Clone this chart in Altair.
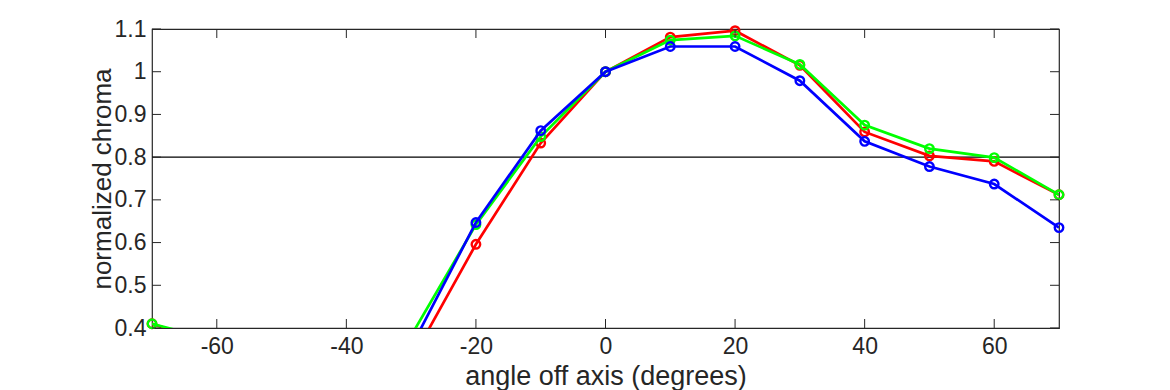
import altair as alt
import pandas as pd

angles = [-70, -60, -50, -40, -30, -20, -10, 0, 10, 20, 30, 40, 50, 60, 70]
red = [0.41, 0.36, 0.33, 0.32, 0.323, 0.596, 0.833, 1.0, 1.081, 1.096, 1.015, 0.859, 0.803, 0.790, 0.712]
green = [0.41, 0.37, 0.36, 0.37, 0.382, 0.642, 0.848, 1.0, 1.074, 1.084, 1.017, 0.875, 0.820, 0.799, 0.712]
blue = [0.38, 0.34, 0.33, 0.33, 0.355, 0.647, 0.862, 1.0, 1.059, 1.059, 0.979, 0.837, 0.778, 0.737, 0.635]
series_names = ["red", "green", "blue"]
series_colors = ["#ff0000", "#00ff00", "#0000ff"]
x_ticks = [-60, -40, -20, 0, 20, 40, 60]
y_ticks = [0.4, 0.5, 0.6, 0.7, 0.8, 0.9, 1.0, 1.1]
threshold = [0.8]

W, H = 907, 299
FONT = "Liberation Sans"
TXT = "#262626"

rows = []
for name, vals in zip(series_names, [red, green, blue]):
    for a, v in zip(angles, vals):
        rows.append({"angle": a, "chroma": v, "series": name})
df = pd.DataFrame(rows)

xs = alt.Scale(domain=[-70, 70], nice=False, zero=False)
ys = alt.Scale(domain=[0.4, 1.1], nice=False, zero=False)

x_axis = alt.Axis(
    values=x_ticks, title="angle off axis (degrees)", ticks=False, tickSize=0, domain=False, grid=False,
    labelFont=FONT, labelFontSize=23, labelColor=TXT, labelPadding=7, labelFlush=False,
    labelExpr="datum.value < 0 ? '-' + abs(datum.value) : '' + datum.value",
    titleFont=FONT, titleFontSize=27, titleFontWeight="normal", titleColor=TXT,
    titleBaseline="alphabetic", titleY=56, titleX=W / 2, titleAlign="center")
y_axis = alt.Axis(
    values=y_ticks, title="normalized chroma", ticks=False, tickSize=0, domain=False, grid=False,
    labelFont=FONT, labelFontSize=23, labelColor=TXT, labelPadding=6, labelFlush=False,
    labelExpr="format(datum.value, '.1~f')",
    titleFont=FONT, titleFontSize=26, titleFontWeight="normal", titleColor=TXT,
    titleBaseline="alphabetic", titleX=-42, titleY=H / 2, titleAngle=270, titleAlign="center")


def X():
    return alt.X("angle:Q", scale=xs, axis=x_axis)


def Y():
    return alt.Y("chroma:Q", scale=ys, axis=y_axis)


base = alt.Chart(df)
layers = []

thr = alt.Chart(pd.DataFrame({"chroma": threshold})).mark_rule(color="black", strokeWidth=1.2).encode(
    y=Y(), x=alt.value(0), x2=alt.value(W))
layers.append(thr)

for name, col in zip(series_names, series_colors):
    sub = base.transform_filter(alt.datum.series == name)
    ln = sub.mark_line(color=col, strokeWidth=2.7, clip=True).encode(x=X(), y=Y())
    pt = sub.transform_filter(alt.datum.chroma >= 0.4).mark_point(
        shape="circle", filled=False, color=col, size=72, strokeWidth=2.4, opacity=1).encode(x=X(), y=Y())
    layers += [ln, pt]

# inward tick marks
xt = pd.DataFrame({"angle": x_ticks})
yt = pd.DataFrame({"chroma": y_ticks})
tick_col = "#262626"
bx = alt.Chart(xt).mark_rule(color=tick_col, strokeWidth=1).encode(
    x=X(), y=alt.value(H), y2=alt.value(H - 9))
tx = alt.Chart(xt).mark_rule(color=tick_col, strokeWidth=1).encode(
    x=X(), y=alt.value(0), y2=alt.value(9))
ly = alt.Chart(yt).mark_rule(color=tick_col, strokeWidth=1).encode(
    y=Y(), x=alt.value(0), x2=alt.value(9))
ry = alt.Chart(yt).mark_rule(color=tick_col, strokeWidth=1).encode(
    y=Y(), x=alt.value(W), x2=alt.value(W - 9))
layers += [bx, tx, ly, ry]

chart = alt.layer(*layers).properties(
    width=W, height=H,
    autosize=alt.AutoSizeParams(type="none"),
    padding={"left": 144, "top": 21, "right": 10, "bottom": 62},
    background="white",
).configure_view(stroke="#262626", strokeWidth=1.2)

chart.save("out.html", embed_options={"renderer": "svg", "actions": False})
